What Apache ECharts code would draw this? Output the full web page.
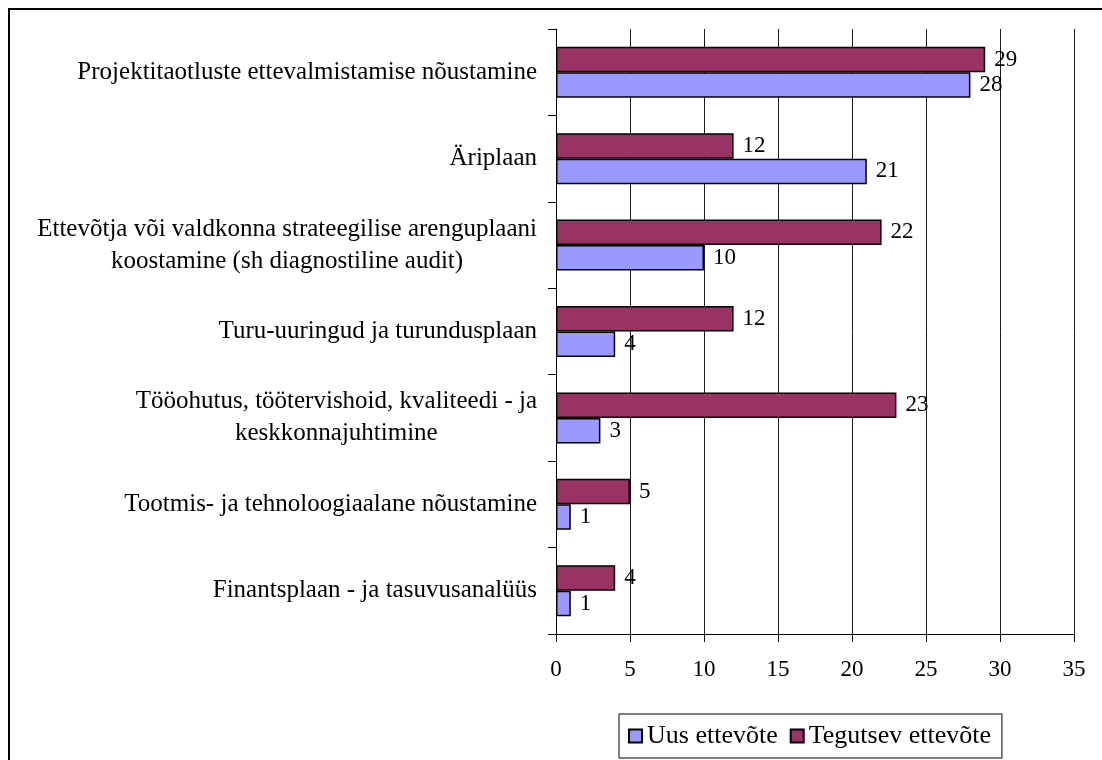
<!DOCTYPE html>
<html>
<head>
<meta charset="utf-8">
<script src="https://cdn.jsdelivr.net/npm/echarts@6/dist/echarts.min.js"></script>
<style>
  html, body { margin: 0; padding: 0; background: #fff; }
  #chart { width: 1102px; height: 760px; }
</style>
</head>
<body>
<div id="chart"></div>
<script>
const categories = [
  'Projektitaotluste ettevalmistamise nõustamine',
  'Äriplaan',
  'Ettevõtja või valdkonna strateegilise arenguplaani\nkoostamine (sh diagnostiline audit)',
  'Turu-uuringud ja turundusplaan',
  'Tööohutus, töötervishoid, kvaliteedi - ja\nkeskkonnajuhtimine',
  'Tootmis- ja tehnoloogiaalane nõustamine',
  'Finantsplaan - ja tasuvusanalüüs'
]
const uusValues = [28, 21, 10, 4, 3, 1, 1]
const tegutsevValues = [29, 12, 22, 12, 23, 5, 4]
const seriesNames = ['Uus ettevõte', 'Tegutsev ettevõte']

const FONT = '"Liberation Serif", "Times New Roman", serif'
const myChart = echarts.init(document.getElementById('chart'))

const labelStyle = {
  show: true,
  position: 'right',
  distance: 9,
  color: '#000',
  fontFamily: FONT,
  fontSize: 23,
}

const option = {
  backgroundColor: '#fff',
  animation: false,
  graphic: [
    {
      type: 'rect',
      shape: { x: 9, y: 9, width: 1300, height: 900 },
      style: { fill: 'none', stroke: '#000', lineWidth: 2 },
      silent: true,
    },
  ],
  grid: {
    left: 556,
    right: 28,
    top: 29,
    bottom: 126,
    containLabel: false,
  },
  legend: {
    left: 619,
    top: 714,
    orient: 'horizontal',
    data: seriesNames,
    icon: 'rect',
    itemWidth: 13,
    itemHeight: 13,
    itemGap: 12,
    padding: [9, 11, 9, 9],
    borderColor: '#000',
    borderWidth: 1,
    textStyle: { color: '#000', fontFamily: FONT, fontSize: 26 },
  },
  xAxis: {
    type: 'value',
    min: 0,
    max: 35,
    interval: 5,
    axisLine: { show: true, lineStyle: { color: '#000', width: 1 } },
    axisTick: { show: true, length: 8, inside: false, lineStyle: { color: '#000' } },
    splitLine: { show: true, lineStyle: { color: '#1a1a1a', width: 1 } },
    axisLabel: { color: '#000', fontFamily: FONT, fontSize: 23, margin: 24 },
  },
  yAxis: {
    type: 'category',
    inverse: true,
    data: categories,
    axisLine: { show: true, lineStyle: { color: '#000', width: 1 } },
    axisTick: { show: true, length: 8, inside: false, lineStyle: { color: '#000' } },
    splitLine: { show: false },
    axisLabel: {
      margin: 19,
      color: '#000',
      fontFamily: FONT,
      fontSize: 25,
      lineHeight: 32,
      formatter: (v) => v.split('\n').map((s) => '{c|' + s + '}').join('\n'),
      rich: {
        c: { align: 'center', fontFamily: FONT, fontSize: 25, lineHeight: 32, color: '#000' },
      },
    },
  },
  series: [
    {
      name: seriesNames[1],
      type: 'bar',
      data: tegutsevValues,
      barGap: '0%',
      barCategoryGap: '41%',
      itemStyle: { color: '#993366', borderColor: '#000', borderWidth: 1.5 },
      label: labelStyle,
    },
    {
      name: seriesNames[0],
      type: 'bar',
      data: uusValues,
      barGap: '0%',
      barCategoryGap: '41%',
      itemStyle: { color: '#9999ff', borderColor: '#000', borderWidth: 1.5 },
      label: labelStyle,
    },
  ],
}
myChart.setOption(option)
</script>
</body>
</html>
